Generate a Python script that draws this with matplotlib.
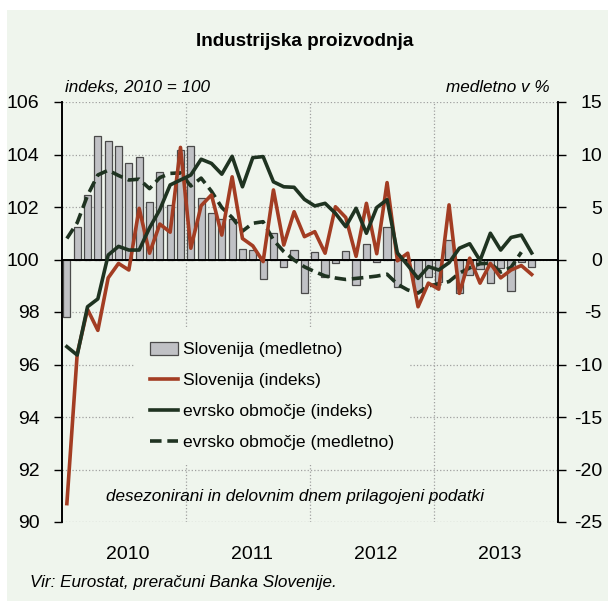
import matplotlib
matplotlib.use("Agg")
import matplotlib.pyplot as plt
from matplotlib.patches import Rectangle, Patch
from matplotlib.lines import Line2D
import numpy as np

plt.rcParams['font.family'] = ['Liberation Sans', 'DejaVu Sans']
plt.rcParams['axes.unicode_minus'] = False

# ---- data: monthly, Jan 2010 .. Oct 2013 ----
years = ["2010", "2011", "2012", "2013"]
slo_yoy = [-5.5, 3.1, 6.1, 11.8, 11.25, 10.8, 9.2, 9.8, 5.45, 8.3,
           5.2, 10.4, 10.8, 5.9, 4.4, 3.9, 3.9, 1.0, 0.9, -1.9,
           2.5, -0.75, 0.9, -3.2, 0.7, -1.7, -0.3, 0.8, -2.4, 1.5,
           -0.2, 3.1, -2.6, -0.1, -3.1, -1.7, -2.1, 1.9, -3.2, -1.5,
           -0.95, -2.2, -0.85, -3.0, -0.2, -0.75]
slo_idx = [90.7, 96.4, 98.1, 97.3, 99.3, 99.85, 99.6, 101.95, 100.24, 101.35,
           101.04, 104.27, 100.43, 102.05, 102.46, 100.93, 103.15, 100.8, 100.52, 99.92,
           102.65, 100.55, 101.82, 100.87, 101.06, 100.24, 102.01, 101.6, 100.12, 102.14,
           100.22, 102.93, 99.95, 100.24, 98.2, 99.1, 98.87, 102.08, 98.71, 100.05,
           99.1, 99.85, 99.3, 99.6, 99.77, 99.43]
ea_idx = [96.68, 96.36, 98.2, 98.5, 100.17, 100.5, 100.36, 100.36, 101.2, 101.9,
          102.84, 103.03, 103.22, 103.82, 103.66, 103.25, 103.93, 102.77, 103.88, 103.92,
          102.96, 102.77, 102.75, 102.29, 102.04, 102.14, 101.76, 101.25, 101.95, 101.0,
          101.98, 102.28, 100.25, 99.78, 99.28, 99.73, 99.6, 99.88, 100.43, 100.6,
          99.96, 101.0, 100.36, 100.84, 100.93, 100.25]
ea_yoy = [2.0, 3.5, 6.1, 8.05, 8.5, 8.0, 7.57, 7.65, 6.75, 7.8,
          8.2, 8.25, 7.0, 7.75, 6.5, 4.95, 4.0, 2.7, 3.45, 3.6,
          1.86, 0.75, -0.05, -0.7, -1.16, -1.57, -1.76, -1.9, -1.8, -1.7,
          -1.58, -1.4, -2.35, -2.9, -3.2, -2.5, -2.35, -2.1, -1.3, -0.8,
          -0.4, -0.35, -1.2, -0.75, 0.7]
labels = ["Slovenija (medletno)", "Slovenija (indeks)",
          "evrsko območje (indeks)", "evrsko območje (medletno)"]

BG = '#eff5ed'
RED = '#a33d23'
GREEN = '#1f3321'
BAR = '#c0c1c5'
BAREDGE = '#4a4a4a'
GRID = '#a0a0a0'
FS_TICK = 14
FS_TXT = 12.3

fig = plt.figure(figsize=(6.08, 6.01), dpi=100, facecolor='white')
fig.patches.append(Rectangle((7 / 608, 0), 1, 1 - 10 / 601, transform=fig.transFigure,
                             facecolor=BG, edgecolor='none', zorder=-10))

ax = fig.add_axes([61.7 / 608, 1 - 522 / 601, (557.5 - 61.7) / 608, 420 / 601])
ax2 = ax.twinx()
ax.set_zorder(ax2.get_zorder() + 1)
ax.patch.set_visible(False)

# right axis: bars + dashed euro area yoy
x_bar = np.arange(len(slo_yoy))
ax2.bar(x_bar, slo_yoy, width=0.7, color=BAR, edgecolor=BAREDGE, linewidth=0.9, zorder=3)
ax2.plot(np.arange(len(ea_yoy)), ea_yoy, color=GREEN, lw=2.6, ls=(0, (3.2, 1.6)), zorder=4)
ax2.set_ylim(-25, 15)
ax2.set_yticks(range(-25, 16, 5))
ax2.yaxis.grid(True, ls=':', color=GRID, lw=0.9)
ax2.set_axisbelow(True)
ax2.axhline(0, color='black', lw=1.4, zorder=3.5)
for b in (11.5, 23.5, 35.5):
    ax2.axvline(b, ls=':', color=GRID, lw=0.9, zorder=1)

# left axis: index lines
ax.plot(np.arange(len(slo_idx)), slo_idx, color=RED, lw=2.6, zorder=5)
ax.plot(np.arange(len(ea_idx)), ea_idx, color=GREEN, lw=2.6, zorder=6)
ax.set_ylim(90, 106)
ax.set_yticks(range(90, 107, 2))
ax.set_xlim(-0.5, 47.5)
ax.set_xticks([5.9, 17.9, 29.9, 41.9])
ax.set_xticklabels(years)

for a in (ax, ax2):
    a.spines['top'].set_visible(False)
    a.spines['bottom'].set_visible(False)
    a.spines['left'].set_linewidth(1.2)
    a.spines['right'].set_linewidth(1.2)
ax.tick_params(axis='x', length=0, pad=17, labelsize=FS_TICK)
ax.tick_params(axis='y', direction='out', length=6, width=1, pad=10, labelsize=FS_TICK)
ax2.tick_params(axis='y', direction='out', length=6, width=1, pad=26, labelsize=FS_TICK)
for t in ax2.get_yticklabels():
    t.set_horizontalalignment('right')

handles = [Patch(facecolor=BAR, edgecolor=BAREDGE, linewidth=0.9),
           Line2D([], [], color=RED, lw=2.6),
           Line2D([], [], color=GREEN, lw=2.6),
           Line2D([], [], color=GREEN, lw=2.6, ls=(0, (3.2, 1.6)))]
ax.legend(handles, labels, loc='upper left', bbox_to_anchor=(135 / 608, 1 - 327 / 601),
          bbox_transform=fig.transFigure, frameon=True, facecolor=BG, edgecolor='none',
          framealpha=1, fancybox=False, fontsize=12.6, handlelength=1.6, handleheight=0.75,
          handletextpad=0.3, labelspacing=0.88, borderpad=0.85, borderaxespad=0)

fig.text(305 / 608, 1 - 42 / 601, "Industrijska proizvodnja", ha='center', va='center',
         fontsize=13.6, fontweight='bold')
fig.text(65 / 608, 1 - 87 / 601, "indeks, 2010 = 100", ha='left', va='center',
         fontsize=FS_TXT, style='italic')
fig.text(550 / 608, 1 - 87 / 601, "medletno v %", ha='right', va='center',
         fontsize=FS_TXT, style='italic')
fig.text(295 / 608, 1 - 497 / 601, "desezonirani in delovnim dnem prilagojeni podatki",
         ha='center', va='center', fontsize=FS_TXT, style='italic')
fig.text(30 / 608, 1 - 583 / 601, "Vir: Eurostat, preračuni Banka Slovenije.", ha='left',
         va='center', fontsize=FS_TXT, style='italic')

fig.savefig("out.png", dpi=100, facecolor=fig.get_facecolor())
